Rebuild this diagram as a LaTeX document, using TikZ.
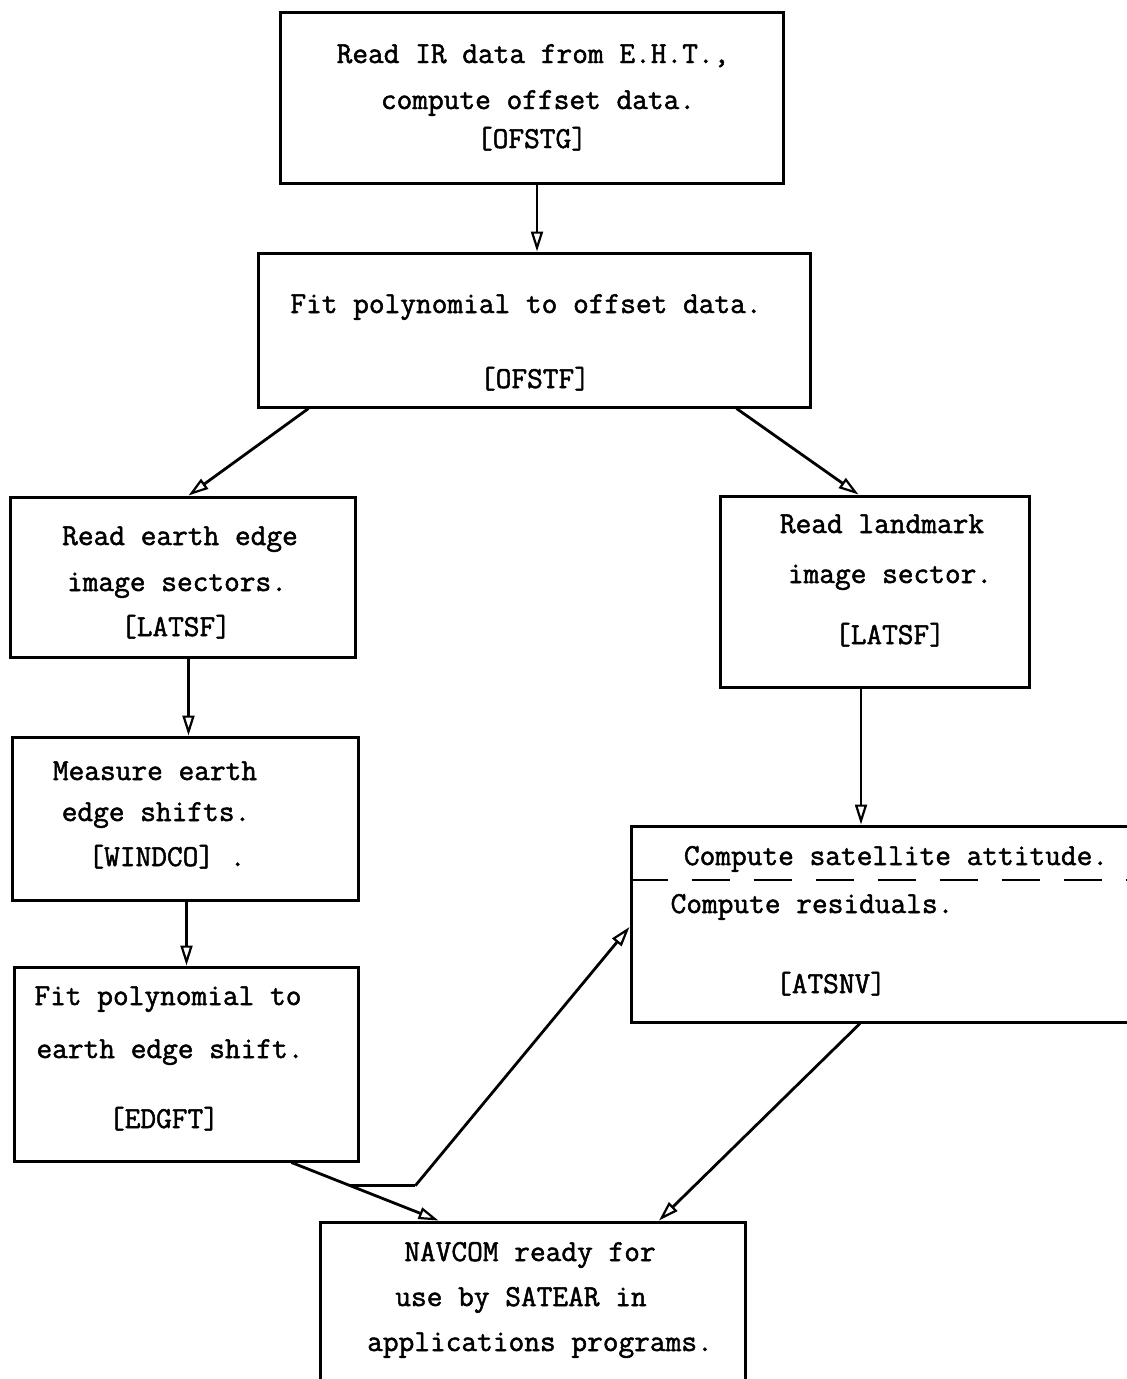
\documentclass[tikz,border=0pt]{standalone}
\usepackage{fontspec}
\newfontfamily\typew{Latin Modern Mono}[FakeBold=1.6]
\usetikzlibrary{arrows.meta,calc}
\tikzset{
  box/.style={draw, line width=3pt, rectangle, inner sep=0pt},
  txt/.style={font=\fontsize{30.5}{36}\selectfont\typew, inner sep=0pt, text height=20pt, text depth=4pt, anchor=center},
  arr/.style={line width=2.8pt, -{Triangle[open, length=20pt, width=12pt, line width=2.2pt]}},
  conn/.style={line width=2.8pt},
  sep/.style={line width=2.8pt, dash pattern=on 38pt off 24pt}
}
\begin{document}
\begin{tikzpicture}[x=1pt,y=-1pt]
\useasboundingbox (0,0) rectangle (1127,1379);
\fill[white] (0,0) rectangle (1127,1379);
\clip (0,0) rectangle (1127,1379);

% boxes
\node[box, minimum width=503pt, minimum height=171pt] (b1) at (531.5,97.5) {};
\node[box, minimum width=552pt, minimum height=154pt] (b2) at (534,330) {};
\node[box, minimum width=345pt, minimum height=160pt] (b3) at (182.5,577) {};
\node[box, minimum width=309pt, minimum height=191pt] (b4) at (874.5,591.5) {};
\node[box, minimum width=346pt, minimum height=163pt] (b5) at (185,818.5) {};
\node[box, minimum width=344pt, minimum height=194pt] (b6) at (186,1064) {};
\node[box, minimum width=519pt, minimum height=196pt] (b7) at (890.5,924) {};
\node[box, minimum width=425pt, minimum height=173pt] (b8) at (532.5,1308.5) {};

% texts
\node[txt] (t1a) at (533,55) {Read IR data from E.H.T.,};
\node[txt] (t1b) at (538,101) {compute offset data.};
\node[txt] (t1c) at (532,140) {[OFSTG]};

\node[txt] (t2a) at (526,305) {Fit polynomial to offset data.};
\node[txt] (t2b) at (535,380) {[OFSTF]};

\node[txt] (t3a) at (180,537) {Read earth edge};
\node[txt] (t3b) at (177,583) {image sectors.};
\node[txt] (t3c) at (176,628) {[LATSF]};

\node[txt] (t4a) at (882,525) {Read landmark};
\node[txt] (t4b) at (890,575) {image sector.};
\node[txt] (t4c) at (890,636) {[LATSF]};

\node[txt] (t5a) at (155,772) {Measure earth};
\node[txt] (t5b) at (156,813) {edge shifts.};
\node[txt] (t5c) at (167,858) {[WINDCO] .};

\node[txt] (t6a) at (168,997) {Fit polynomial to};
\node[txt] (t6b) at (170,1050) {earth edge shift.};
\node[txt] (t6c) at (164,1120) {[EDGFT]};

\node[txt] (t7a) at (896,857) {Compute satellite attitude.};
\node[txt] (t7b) at (812,905) {Compute residuals.};
\node[txt] (t7c) at (831,985) {[ATSNV]};

\node[txt] (t8a) at (530,1253) {NAVCOM ready for};
\node[txt] (t8b) at (521,1298) {use by SATEAR in};
\node[txt] (t8c) at (540,1343) {applications programs.};

% dashed separator
\draw[sep] ([yshift=44pt]b7.west) -- ([yshift=44pt]b7.east);

% connectors
\draw[arr] ([xshift=5.5pt]b1.south) -- ([xshift=3pt]b2.north);
\draw[arr] ([xshift=52pt]b2.south west) -- ([xshift=180pt]b3.north west);
\draw[arr] ([xshift=-75pt]b2.south east) -- ([xshift=140pt]b4.north west);
\draw[arr] ([xshift=180pt]b3.south west) -- ([xshift=178pt]b5.north west);
\draw[arr] ([xshift=176pt]b5.south west) -- ([xshift=174pt]b6.north west);
\draw[arr] ([xshift=-13.5pt]b4.south) -- ([xshift=-29.5pt]b7.north);
\draw[arr] ([xshift=279pt]b6.south west) -- ([xshift=120pt]b8.north west);
\coordinate (j) at ($([xshift=279pt]b6.south west)!0.4!([xshift=120pt]b8.north west)$);
\coordinate (k) at ([xshift=65pt]j);
\draw[conn] (j) -- (k);
\draw[arr] (k) -- ([yshift=-3pt]b7.west);
\draw[arr] ([xshift=-30.5pt]b7.south) -- ([xshift=-87.5pt]b8.north east);
\end{tikzpicture}
\end{document}
